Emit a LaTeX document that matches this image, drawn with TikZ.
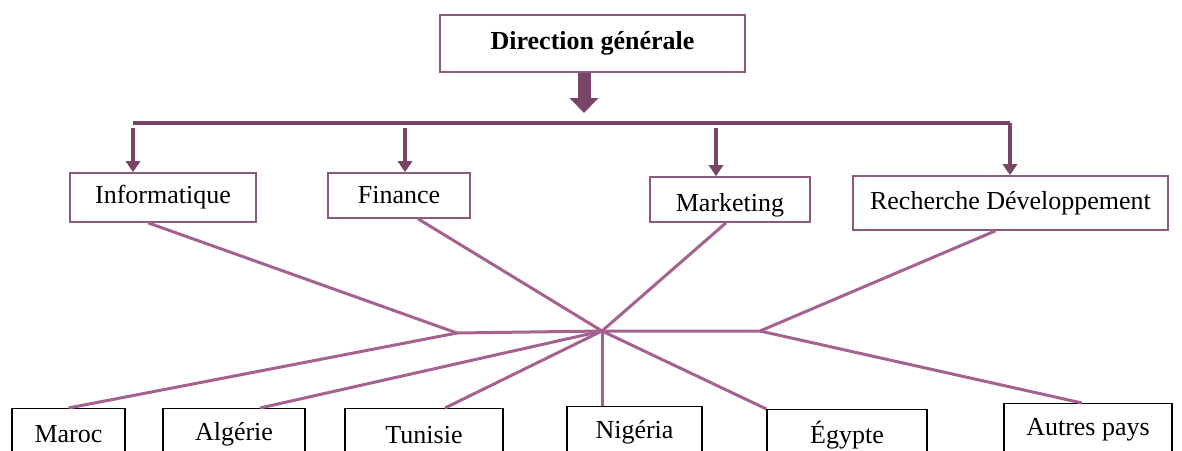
\documentclass[tikz,border=0pt]{standalone}
\usepackage{fontspec}
\setmainfont{Liberation Serif}
\usetikzlibrary{arrows.meta, positioning, calc}
\definecolor{plum}{HTML}{7A4468}
\definecolor{mauve}{HTML}{8C5A7E}
\definecolor{rose}{HTML}{A5628F}

\begin{document}
\begin{tikzpicture}[
    x=0.5pt, y=-0.5pt,
    every node/.style={font=\fontsize{13}{15}\selectfont},
    head/.style={draw=mauve, line width=0.8pt, minimum width=152.5pt, minimum height=28.5pt, font=\fontsize{13}{15}\selectfont\bfseries},
    dept/.style={draw=mauve, line width=0.8pt, minimum height=22.5pt},
    pays/.style={draw=black, line width=0.6pt, anchor=north, minimum height=26pt},
    link/.style={draw=rose, line width=1.5pt},
    arr/.style={-{Triangle[width=7pt, length=5.5pt]}, draw=plum, fill=plum, line width=1.6pt},
    bigarr/.style={-{Triangle[width=14pt, length=7.5pt]}, draw=plum, fill=plum, line width=6.5pt}
]
\useasboundingbox (0,0) rectangle (1182,450);
\clip (0,0) rectangle (1182,450);

\node[head] (dg) at (592.5,43.5) {Direction générale};
\node[dept, minimum width=93pt, minimum height=24.5pt] (info) at (163,197.5) {Informatique};
\node[dept, minimum width=71pt] (fin) at (399,195.5) {Finance};
\node[dept, minimum width=80pt, text depth=0pt] (mkt) at (730,199.5) {\raisebox{-3pt}{Marketing}};
\node[dept, minimum width=157.5pt, minimum height=27pt] (rd) at (1010.5,203) {Recherche Développement};

\node[pays, minimum width=56.5pt] (maroc) at (68.5,408) {Maroc};
\node[pays, minimum width=71pt] (alg) at (234,408) {Algérie};
\node[pays, minimum width=79pt] (tun) at (424,408) {Tunisie};
\node[pays, minimum width=67.5pt] (nig) at (634.5,406) {Nigéria};
\node[pays, minimum width=80pt] (egy) at (847,409) {Égypte};
\node[pays, minimum width=84pt] (aut) at (1088,403) {Autres pays};

\coordinate (tip) at (584,113);
\coordinate (barl) at (133,123);
\coordinate (barr) at (1010,123);
\coordinate (afin) at (405,128);
\coordinate (amkt) at (716,128);
\coordinate (jl) at (457,333);
\coordinate (hub) at (602,331);
\coordinate (jr) at (760,331);

\draw[bigarr] (tip |- dg.south) -- (tip);
\draw[plum, line width=2pt] (barl) -- (barr);
\draw[arr] ([yshift=-2.5pt]barl) -- (barl |- info.north);
\draw[arr] (afin) -- (afin |- fin.north);
\draw[arr] (amkt) -- (amkt |- mkt.north);
\draw[arr] (barr) -- (barr |- rd.north);

\draw[link] ([xshift=-7.5pt]info.south) -- (jl) -- (hub);
\draw[link] ([xshift=9.5pt]fin.south) -- (hub);
\draw[link] ([xshift=-2pt]mkt.south) -- (hub);
\draw[link] ([xshift=-7.5pt]rd.south) -- (jr) -- (hub);
\draw[link] (jl) -- (maroc.north);
\draw[link] (hub) -- ([xshift=13pt]alg.north);
\draw[link] (hub) -- ([xshift=10.5pt]tun.north);
\draw[link] (hub) -- (hub |- nig.north);
\draw[link] (hub) -- (egy.north west);
\draw[link] (jr) -- ([xshift=-3pt]aut.north);
\end{tikzpicture}
\end{document}
